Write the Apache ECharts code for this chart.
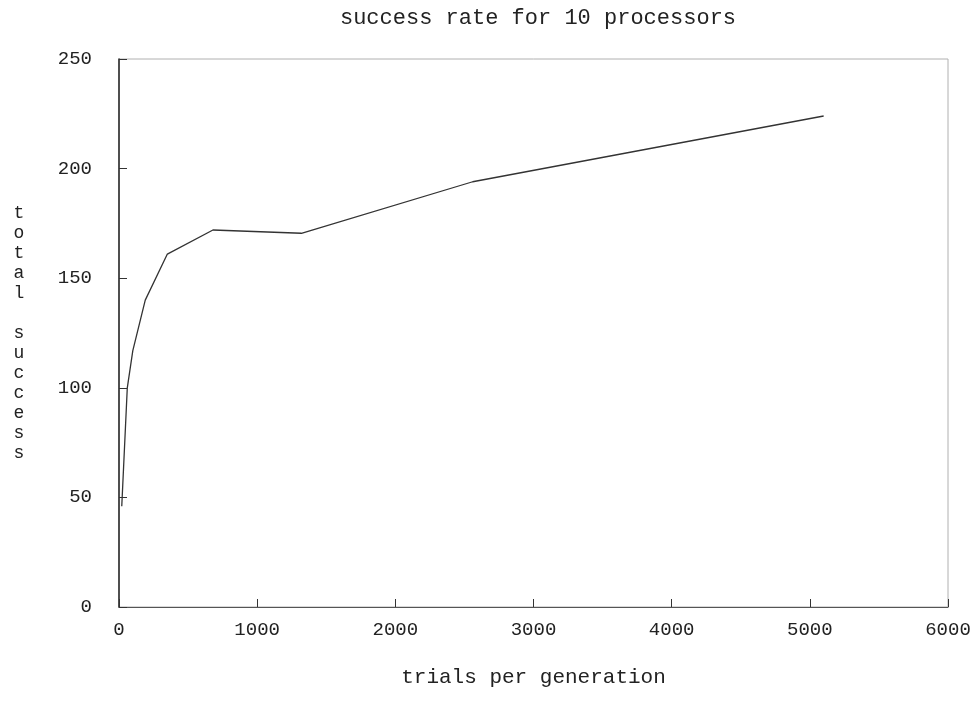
<!DOCTYPE html>
<html>
<head>
<meta charset="utf-8">
<script src="https://cdn.jsdelivr.net/npm/echarts@6/dist/echarts.min.js"></script>
<style>
html,body{margin:0;padding:0;background:#fff;}
#chart{width:980px;height:702px;}
</style>
</head>
<body>
<div id="chart"></div>
<script>
var titleText = 'success rate for 10 processors';
var xName = 'trials per generation';
var yName = 'total success';
var trials = [20, 60, 100, 190, 350, 680, 1320, 2560, 5100];
var success = [46, 100, 117, 140, 161, 172, 170.5, 194, 224];
var xTicks = [0, 1000, 2000, 3000, 4000, 5000, 6000];
var yTicks = [0, 50, 100, 150, 200, 250];

var font = '"Liberation Mono", "DejaVu Sans Mono", monospace';
var seriesData = trials.map(function (t, i) { return [t, success[i]]; });
var vertName = yName.split('').join('\n');

var chart = echarts.init(document.getElementById('chart'));
chart.setOption({
  backgroundColor: '#ffffff',
  animation: false,
  title: {
    text: titleText,
    left: 533, top: 2, textAlign: 'center',
    textStyle: {fontFamily: font, fontSize: 22, fontWeight: 'normal', color: '#222'}
  },
  grid: {
    left: 119, right: 32, top: 59, bottom: 95,
    show: true, borderColor: '#b0b0b0', borderWidth: 1, backgroundColor: 'transparent'
  },
  xAxis: {
    type: 'value', min: xTicks[0], max: xTicks[xTicks.length - 1], interval: 1000,
    name: xName, nameLocation: 'middle', nameGap: 60,
    nameTextStyle: {fontFamily: font, fontSize: 21, color: '#222'},
    axisLine: {show: true, lineStyle: {color: '#555', width: 1.2}},
    axisTick: {show: true, inside: true, length: 8, lineStyle: {color: '#333'}},
    axisLabel: {fontFamily: font, fontSize: 19, color: '#222', margin: 13,
      formatter: function (v) { return String(v); }},
    splitLine: {show: false}
  },
  yAxis: {
    type: 'value', min: yTicks[0], max: yTicks[yTicks.length - 1], interval: 50,
    name: vertName, nameLocation: 'middle', nameGap: 100, nameRotate: 0,
    nameTextStyle: {fontFamily: font, fontSize: 18, color: '#222', lineHeight: 20, align: 'center'},
    axisLine: {show: true, lineStyle: {color: '#222', width: 1.5}},
    axisTick: {show: true, inside: true, length: 8, lineStyle: {color: '#333'}},
    axisLabel: {fontFamily: font, fontSize: 19, color: '#222', margin: 27},
    splitLine: {show: false}
  },
  series: [{
    type: 'line',
    data: seriesData,
    symbol: 'none',
    lineStyle: {color: '#333', width: 1.3},
    z: 3
  }]
});
</script>
</body>
</html>
